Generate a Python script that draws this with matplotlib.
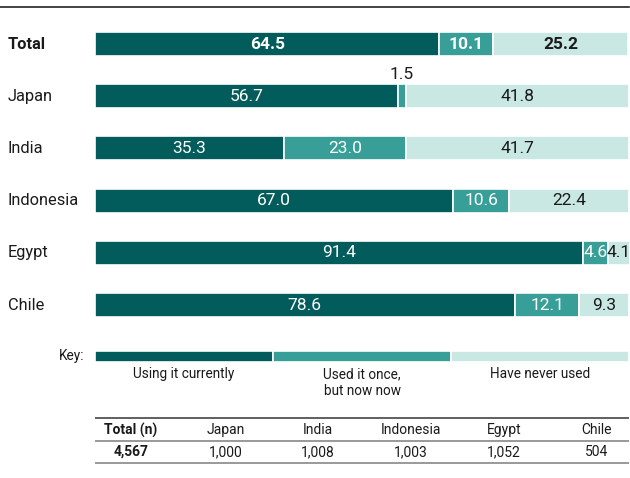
import matplotlib.pyplot as plt

# Data
countries = ["Total", "Japan", "India", "Indonesia", "Egypt", "Chile"]
using_now = [64.5, 56.7, 35.3, 67.0, 91.4, 78.6]
used_once = [10.1, 1.5, 23.0, 10.6, 4.6, 12.1]
never_used = [25.2, 41.8, 41.7, 22.4, 4.1, 9.3]
key_labels = ["Using it currently", "Used it once,\nbut now now", "Have never used"]
table_header = ["Total (n)", "Japan", "India", "Indonesia", "Egypt", "Chile"]
table_values = ["4,567", "1,000", "1,008", "1,003", "1,052", "504"]

colors = ["#025c5b", "#379f97", "#c9e8e4"]
text_colors = ["white", "white", "#1a1a1a"]

plt.rcParams["font.family"] = ["Roboto", "DejaVu Sans"]

fig = plt.figure(figsize=(6.3, 4.78), dpi=100)
# axes in pixel-like vertical units, 0-100 horizontally across the bar area
ax = fig.add_axes([95 / 630, 0, 534 / 630, 1])
ax.set_xlim(0, 100)
ax.set_ylim(478, 0)
ax.axis("off")

row_y = [44 + 52.2 * i for i in range(len(countries))]
bar_h = 24
series = [using_now, used_once, never_used]

for i, country in enumerate(countries):
    y = row_y[i]
    left = 0
    bold = "bold" if i == 0 else "normal"
    for s, vals in enumerate(series):
        v = vals[i]
        ax.barh(y, v, left=left, height=bar_h, color=colors[s],
                edgecolor="white", linewidth=1.2)
        if v < 3:
            ax.text(left + v / 2, y - bar_h / 2 - 2, f"{v:.1f}", ha="center", va="bottom",
                    fontsize=12.5, color="#1a1a1a", fontweight=bold)
        else:
            ax.text(left + v / 2, y, f"{v:.1f}", ha="center", va="center",
                    fontsize=12.5, color=text_colors[s], fontweight=bold)
        left += v
    ax.text(-16.3, y, country, ha="left", va="center", fontsize=11.8,
            fontweight=bold, color="#1a1a1a", clip_on=False)

# top rule
ax.plot([-17.8, 100], [7, 7], color="#222222", linewidth=1.2, clip_on=False)

# key
key_y = 356
ax.text(-1.9, key_y, "Key:", ha="right", va="center", fontsize=9.8, color="#1a1a1a")
for k, lab in enumerate(key_labels):
    ax.barh(key_y, 100 / 3, left=k * 100 / 3, height=11, color=colors[k],
            edgecolor="white", linewidth=1.2)
    ax.text(k * 100 / 3 + 100 / 6, 367, lab, ha="center", va="top", fontsize=9.8,
            color="#1a1a1a", linespacing=1.3)

# sample size table
col_x = [6.7, 24.5, 41.8, 59.2, 76.6, 94.0]
ax.plot([0, 100], [418, 418], color="#444444", linewidth=1.2)
ax.plot([0, 100], [441, 441], color="#888888", linewidth=1.2)
ax.plot([0, 100], [463, 463], color="#888888", linewidth=1.2)
for j in range(len(table_header)):
    w = "bold" if j == 0 else "normal"
    ax.text(col_x[j], 430, table_header[j], ha="center", va="center", fontsize=10,
            fontweight=w, color="#1a1a1a")
    ax.text(col_x[j], 452, table_values[j], ha="center", va="center", fontsize=10,
            fontweight=w, color="#1a1a1a")

fig.savefig("out.png", dpi=100)
